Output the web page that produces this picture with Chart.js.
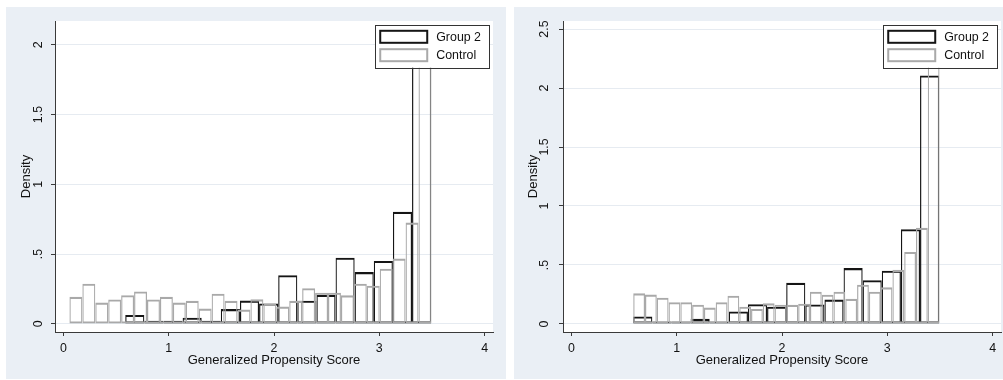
<!DOCTYPE html>
<html>
<head>
<meta charset="utf-8">
<script src="https://cdn.jsdelivr.net/npm/chart.js@4.4.1/dist/chart.umd.min.js"></script>
<style>
  html, body { margin: 0; padding: 0; background: #ffffff; width: 1003px; height: 380px; overflow: hidden; }
  .panel { position: absolute; top: 7px; height: 372px; background: #eaeff5; }
  #panelAll { left: 6px; width: 500px; }
  #panelMatched { left: 514px; width: 489px; }
  canvas { display: block; }
</style>
</head>
<body>
<div class="panel" id="panelAll"><canvas id="chartAll" width="500" height="372"></canvas></div>
<div class="panel" id="panelMatched"><canvas id="chartMatched" width="489" height="372"></canvas></div>
<script>
// ---- data ----
const seriesNames = ['Group 2', 'Control'];
const xTitle = 'Generalized Propensity Score';
const yTitle = 'Density';
const xTickValues = [0, 1, 2, 3, 4];
const yTickValuesAll = [0, 0.5, 1, 1.5, 2];
const yTickValuesMatched = [0, 0.5, 1, 1.5, 2, 2.5];

// Group 2 histogram (density per bin), identical in both panels
const group2BinStart = 0.587;
const group2BinWidth = 0.1816;
const group2Density = [0.064, 0.022, 0.022, 0.044, 0.022, 0.106, 0.167, 0.146, 0.349, 0.166,
                       0.207, 0.474, 0.371, 0.451, 0.803, 2.107];

// Control histogram, full sample
const controlAllBinStart = 0.057;
const controlAllBinWidth = 0.1228;
const controlAllDensity = [0.194, 0.288, 0.153, 0.175, 0.206, 0.233, 0.175, 0.194, 0.153, 0.165,
                           0.110, 0.216, 0.165, 0.103, 0.176, 0.145, 0.124, 0.165, 0.256, 0.224,
                           0.224, 0.205, 0.288, 0.274, 0.395, 0.468, 0.726, 1.96];

// Control histogram, common-support sample
const controlMatchedBinStart = 0.587;
const controlMatchedBinWidth = 0.1119;
const controlMatchedDensity = [0.260, 0.249, 0.223, 0.184, 0.184, 0.164, 0.139, 0.184, 0.240, 0.147,
                               0.127, 0.175, 0.164, 0.162, 0.172, 0.273, 0.248, 0.273, 0.213, 0.333,
                               0.274, 0.311, 0.459, 0.611, 0.815, 2.35];

// ---- styling ----
const FONT = "'Liberation Sans', Arial, Helvetica, sans-serif";
const TEXT = '#111111';
const AXIS = '#3a3a3a';
const GRID = '#e6ebf1';
const GROUP2_COLOR = '#151515';
const CONTROL_COLOR = '#a9a9a9';

function binsToPoints(start, width, heights) {
  return heights.map((h, i) => ({ x: start + width * (i + 0.5), y: h }));
}

function stataLabel(v) {
  return String(v).replace(/^0\./, '.');
}

// white plot region inside the tinted panel
const plotBackground = {
  id: 'plotBackground',
  beforeDraw(chart) {
    const { ctx, chartArea: a } = chart;
    ctx.save();
    ctx.fillStyle = '#ffffff';
    ctx.fillRect(a.left, a.top, a.right - a.left, a.bottom - a.top);
    ctx.restore();
  }
};

// boxed legend in the top-right corner of the plot region
const insetLegend = {
  id: 'insetLegend',
  afterDatasetsDraw(chart) {
    const { ctx, chartArea: a } = chart;
    const items = chart.data.datasets.map(d => ({ label: d.label, color: d.borderColor }));
    ctx.save();
    ctx.font = '12.4px ' + FONT;
    const textW = Math.max(...items.map(it => ctx.measureText(it.label).width));
    const padL = 5, sampleW = 47, sampleH = 12, gap = 9, padR = 8.5, rowH = 18.4, firstRow = 11.8;
    const boxW = padL + sampleW + gap + textW + padR;
    const boxH = 42.7;
    const right = a.right - 3.5;
    const left = right - boxW;
    const top = a.top + 4;
    ctx.fillStyle = '#ffffff';
    ctx.fillRect(left, top, boxW, boxH);
    ctx.strokeStyle = '#333333';
    ctx.lineWidth = 1;
    ctx.strokeRect(Math.round(left) + 0.5, Math.round(top) + 0.5, Math.round(boxW), Math.round(boxH));
    items.forEach((it, i) => {
      const cy = top + firstRow + i * rowH;
      ctx.fillStyle = '#ffffff';
      ctx.fillRect(left + padL, cy - sampleH / 2, sampleW, sampleH);
      ctx.strokeStyle = it.color;
      ctx.lineWidth = 2;
      ctx.strokeRect(left + padL, cy - sampleH / 2, sampleW, sampleH);
      ctx.fillStyle = TEXT;
      ctx.textBaseline = 'middle';
      ctx.textAlign = 'left';
      ctx.fillText(it.label, left + padL + sampleW + gap, cy + 0.5);
    });
    ctx.restore();
  }
};

function barDataset(label, points, color, axisId, drawOrder) {
  return {
    label: label,
    data: points,
    xAxisID: axisId,
    backgroundColor: 'rgba(255,255,255,0)',
    borderColor: color,
    borderWidth: { top: 2.1, bottom: 2, left: 1.2, right: 1.2 },
    borderSkipped: false,
    inflateAmount: 0,
    barPercentage: 1,
    categoryPercentage: 1,
    grouped: false,
    order: drawOrder
  };
}

function makeChart(canvasId, control, yTicks, yMin, yMax, padRight, yTickPad, yTitlePad) {
  const xScaleBase = {
    type: 'linear',
    min: -0.08,
    max: 4.08,
    offset: false
  };
  return new Chart(document.getElementById(canvasId), {
    type: 'bar',
    data: {
      datasets: [
        barDataset(seriesNames[0], binsToPoints(group2BinStart, group2BinWidth, group2Density), GROUP2_COLOR, 'x', 1),
        barDataset(seriesNames[1], binsToPoints(control.start, control.width, control.density), CONTROL_COLOR, 'xc', 0)
      ]
    },
    options: {
      responsive: false,
      animation: false,
      devicePixelRatio: 1,
      events: [],
      layout: { padding: { top: 14, right: padRight, bottom: 0, left: 0 } },
      plugins: { legend: { display: false }, tooltip: { enabled: false } },
      scales: {
        x: Object.assign({}, xScaleBase, {
          position: 'bottom',
          afterBuildTicks: s => { s.ticks = xTickValues.map(v => ({ value: v })); },
          afterFit: s => { s.height = 47; },
          grid: { display: true, drawOnChartArea: false, drawTicks: true, tickLength: 4, tickColor: AXIS, offset: false },
          border: { display: true, color: AXIS, width: 1 },
          ticks: {
            includeBounds: false, maxRotation: 0, minRotation: 0, padding: 5,
            color: TEXT, font: { family: FONT, size: 12.4 },
            callback: v => stataLabel(v)
          },
          title: {
            display: true, text: xTitle, color: TEXT,
            font: { family: FONT, size: 13 }, padding: { top: 0, bottom: 11.2 }
          }
        }),
        xc: Object.assign({}, xScaleBase, {
          display: false,
          position: 'bottom',
          ticks: { includeBounds: false },
          grid: { offset: false }
        }),
        y: {
          type: 'linear',
          position: 'left',
          min: yMin,
          max: yMax,
          afterBuildTicks: s => { s.ticks = yTicks.map(v => ({ value: v })); },
          afterFit: s => { s.width = 49; },
          grid: { display: true, drawOnChartArea: true, color: GRID, lineWidth: 1, drawTicks: true, tickLength: 4, tickColor: AXIS },
          border: { display: true, color: AXIS, width: 1 },
          ticks: {
            includeBounds: false, minRotation: 90, maxRotation: 90, crossAlign: 'center', padding: yTickPad,
            color: TEXT, font: { family: FONT, size: 12.4 },
            callback: v => stataLabel(v)
          },
          title: {
            display: true, text: yTitle, color: TEXT,
            font: { family: FONT, size: 13 }, padding: { top: yTitlePad, bottom: 0 }
          }
        }
      }
    },
    plugins: [plotBackground, insetLegend]
  });
}

makeChart('chartAll',
  { start: controlAllBinStart, width: controlAllBinWidth, density: controlAllDensity },
  yTickValuesAll, -0.058, 2.17, 13, 3.4, 12.6);

makeChart('chartMatched',
  { start: controlMatchedBinStart, width: controlMatchedBinWidth, density: controlMatchedDensity },
  yTickValuesMatched, -0.068, 2.568, 2, 5.9, 11.9);
</script>
</body>
</html>
